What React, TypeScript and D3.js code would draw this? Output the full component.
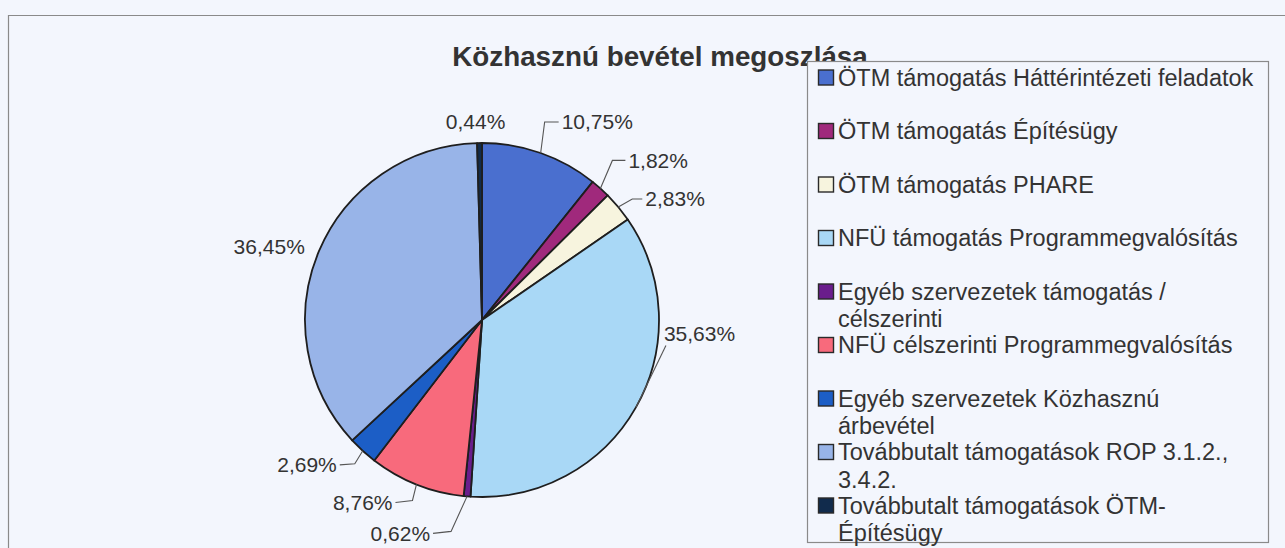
import React from 'react';
import * as d3 from 'd3';

const title = 'Közhasznú bevétel megoszlása';

const categories = [
  'ÖTM támogatás Háttérintézeti feladatok',
  'ÖTM támogatás Építésügy',
  'ÖTM támogatás PHARE',
  'NFÜ támogatás Programmegvalósítás',
  'Egyéb szervezetek támogatás / célszerinti',
  'NFÜ célszerinti Programmegvalósítás',
  'Egyéb szervezetek Közhasznú árbevétel',
  'Továbbutalt támogatások ROP 3.1.2., 3.4.2.',
  'Továbbutalt támogatások ÖTM-Építésügy',
];

const values = [10.75, 1.82, 2.83, 35.63, 0.62, 8.76, 2.69, 36.45, 0.44];

const valueLabels = ['10,75%', '1,82%', '2,83%', '35,63%', '0,62%', '8,76%', '2,69%', '36,45%', '0,44%'];

const legendLines = [
  ['ÖTM támogatás Háttérintézeti feladatok'],
  ['ÖTM támogatás Építésügy'],
  ['ÖTM támogatás PHARE'],
  ['NFÜ támogatás Programmegvalósítás'],
  ['Egyéb szervezetek támogatás /', 'célszerinti'],
  ['NFÜ célszerinti Programmegvalósítás'],
  ['Egyéb szervezetek Közhasznú', 'árbevétel'],
  ['Továbbutalt támogatások ROP 3.1.2.,', '3.4.2.'],
  ['Továbbutalt támogatások ÖTM-', 'Építésügy'],
];

const colors = ['#4a6fcf', '#a0297c', '#f7f4de', '#a9d8f6', '#6a1d8c', '#f86a7c', '#1c5ec6', '#98b4e8', '#112b4c'];

// layout (positions / styles)
const W = 1285;
const H = 548;
const BG = '#f3f6fd';
const TEXT = '#333333';
const FONT = '"Liberation Sans", Arial, sans-serif';
const cx = 482;
const cy = 320;
const R = 177;

type Lay = { dx: number; dy: number; anchor: 'start' | 'middle' | 'end'; elbow?: [number, number]; straight?: boolean };
const labelLayout: Lay[] = [
  { dx: 21, dy: -31, anchor: 'start', elbow: [4, -31] },
  { dx: 28, dy: -28, anchor: 'start', elbow: [12, -28] },
  { dx: 27, dy: -8, anchor: 'start', elbow: [14, -8] },
  { dx: 28, dy: -74, anchor: 'start', elbow: [30, -62], straight: true },
  { dx: -37, dy: 37, anchor: 'end', elbow: [-16, 35] },
  { dx: -24, dy: 18, anchor: 'end', elbow: [-4, 16] },
  { dx: -26, dy: 14, anchor: 'end', elbow: [-8, 13] },
  { dx: -14, dy: -5, anchor: 'end' },
  { dx: -4, dy: -21, anchor: 'middle' },
];

const legendX = 807;
const legendY = 61;
const legendW = 461;
const legendH = 481;
const legendFirst = 77.5;
const legendStep = 53.5;
const legendLineH = 27.5;

export default function App() {
  const pie = d3
    .pie<number>()
    .sort(null)
    .value((d) => d)
    .startAngle(0)
    .endAngle(2 * Math.PI);
  const arcs = pie(values);
  const arc = d3.arc<d3.PieArcDatum<number>>().innerRadius(0).outerRadius(R);
  const edge = d3.arc<d3.PieArcDatum<number>>().innerRadius(R).outerRadius(R);
  const line = d3.line();

  return (
    <svg
      width={W}
      height={H}
      style={{ position: 'absolute', left: 0, top: 0, background: BG, fontFamily: FONT }}
    >
      <rect x={0} y={0} width={W} height={H} fill={BG} />
      <path d={`M8.5,${H} V15.5 H${W}`} fill="none" stroke="#8a8a8a" strokeWidth={1.2} />
      <text x={660} y={66} textAnchor="middle" fontSize={27.8} fontWeight="bold" fill={TEXT}>
        {title}
      </text>
      <g transform={`translate(${cx},${cy})`}>
        {arcs.map((a, i) => (
          <path key={categories[i]} d={arc(a) || ''} fill={colors[i]} stroke="#1e1e1e" strokeWidth={1.8} strokeLinejoin="round" />
        ))}
        {arcs.map((a, i) => {
          const [ex, ey] = edge.centroid(a);
          const L = labelLayout[i];
          const lx = ex + L.dx;
          const ly = ey + L.dy;
          let leader = null;
          if (L.elbow) {
            const gap = L.anchor === 'start' ? -3 : 3;
            const pts: [number, number][] = L.straight
              ? [[ex, ey], [ex + L.elbow[0], ey + L.elbow[1]]]
              : [[ex, ey], [ex + L.elbow[0], ey + L.elbow[1]], [lx + gap, ly]];
            leader = <path d={line(pts) || ''} fill="none" stroke="#555" strokeWidth={1.1} />;
          }
          return (
            <g key={'l' + i}>
              {leader}
              <text x={lx} y={ly} dy="0.35em" textAnchor={L.anchor} fontSize={21} fill={TEXT}>
                {valueLabels[i]}
              </text>
            </g>
          );
        })}
      </g>
      <rect x={legendX + 0.5} y={legendY + 0.5} width={legendW} height={legendH} fill={BG} stroke="#8a8a8a" strokeWidth={1.2} />
      {legendLines.map((lines, i) => {
        const y0 = legendFirst + i * legendStep;
        return (
          <g key={'lg' + i}>
            <rect x={818.5} y={y0 - 7.5} width={15} height={15} fill={colors[i]} stroke="#2a2a2a" strokeWidth={1.4} />
            {lines.map((t, j) => (
              <text key={j} x={838} y={y0 + j * legendLineH} dy="0.35em" fontSize={23.5} fill={TEXT}>
                {t}
              </text>
            ))}
          </g>
        );
      })}
    </svg>
  );
}
